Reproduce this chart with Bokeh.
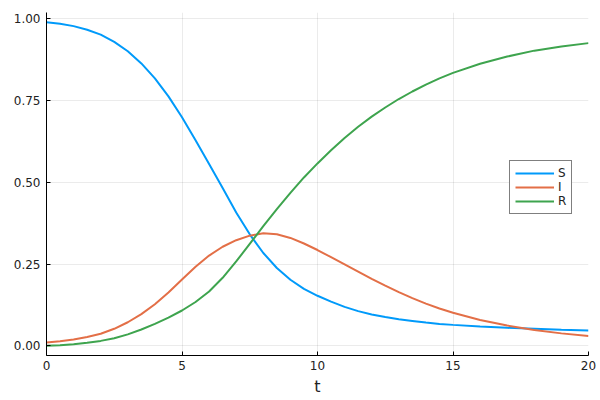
from bokeh.plotting import figure
from bokeh.models import Range1d, FixedTicker, PrintfTickFormatter, Legend, LegendItem
from bokeh.embed import file_html
from bokeh.resources import INLINE

t = [0, 0.5, 1, 1.5, 2, 2.5, 3, 3.5, 4, 4.5, 5, 5.5, 6, 6.5, 7, 7.5, 8, 8.5, 9, 9.5,
     10, 10.5, 11, 11.5, 12, 12.5, 13, 13.5, 14, 14.5, 15, 16, 17, 18, 19, 20]
S = [0.990, 0.985, 0.978, 0.967, 0.952, 0.930, 0.901, 0.864, 0.818, 0.763, 0.699, 0.629, 0.556, 0.483, 0.408, 0.341, 0.284, 0.238, 0.202, 0.174,
     0.153, 0.135, 0.119, 0.106, 0.096, 0.088, 0.081, 0.076, 0.071, 0.067, 0.064, 0.059, 0.055, 0.052, 0.049, 0.047]
I = [0.010, 0.014, 0.019, 0.027, 0.037, 0.052, 0.072, 0.097, 0.127, 0.163, 0.203, 0.242, 0.276, 0.303, 0.323, 0.337, 0.344, 0.341, 0.330, 0.313,
     0.293, 0.271, 0.249, 0.227, 0.205, 0.184, 0.164, 0.146, 0.129, 0.114, 0.101, 0.079, 0.062, 0.048, 0.038, 0.030]
R = [0.000, 0.002, 0.005, 0.009, 0.015, 0.023, 0.035, 0.050, 0.067, 0.086, 0.108, 0.134, 0.166, 0.208, 0.258, 0.312, 0.366, 0.418, 0.468, 0.515,
     0.558, 0.598, 0.636, 0.670, 0.701, 0.729, 0.755, 0.778, 0.799, 0.818, 0.835, 0.863, 0.885, 0.903, 0.916, 0.926]

names = ["S", "I", "R"]
colors = ["#009AFA", "#E36F47", "#3EA44E"]
x_ticks = [0, 5, 10, 15, 20]
y_ticks = [0, 0.25, 0.5, 0.75, 1.0]

p = figure(width=600, height=400, output_backend="svg", toolbar_location=None,
           x_range=Range1d(0, 20), y_range=Range1d(-0.0297, 1.0197),
           min_border_left=46, min_border_right=12, min_border_top=12, min_border_bottom=45)
p.outline_line_color = None
p.background_fill_color = "white"

renderers = []
for ys, c in zip([S, I, R], colors):
    renderers.append(p.line(t, ys, line_color=c, line_width=2))

for ax in (p.xaxis, p.yaxis):
    ax.axis_line_color = "black"
    ax.axis_line_width = 1
    ax.major_tick_in = 4
    ax.major_tick_out = 0
    ax.minor_tick_line_color = None
    ax.major_tick_line_color = "black"
    ax.major_label_text_font = "DejaVu Sans"
    ax.major_label_text_font_size = "12px"
    ax.major_label_text_color = "#222222"

p.xaxis.ticker = FixedTicker(ticks=x_ticks)
p.yaxis.ticker = FixedTicker(ticks=y_ticks)
p.yaxis.formatter = PrintfTickFormatter(format="%.2f")
p.xaxis.major_label_standoff = 5
p.yaxis.major_label_standoff = 6
p.xaxis.axis_label = "t"
p.xaxis.axis_label_text_font = "DejaVu Sans"
p.xaxis.axis_label_text_font_size = "16px"
p.xaxis.axis_label_text_font_style = "normal"
p.xaxis.axis_label_text_color = "#222222"
p.xaxis.axis_label_standoff = 4

p.xgrid.ticker = FixedTicker(ticks=x_ticks)
p.ygrid.ticker = FixedTicker(ticks=y_ticks)
p.grid.grid_line_color = "black"
p.grid.grid_line_alpha = 0.08
p.grid.grid_line_width = 1

legend = Legend(items=[LegendItem(label=n, renderers=[r]) for n, r in zip(names, renderers)],
                location=(463, 141))
legend.border_line_color = "black"
legend.border_line_width = 1
legend.background_fill_color = "white"
legend.background_fill_alpha = 1
legend.label_text_font = "DejaVu Sans"
legend.label_text_font_size = "12px"
legend.label_text_color = "#222222"
legend.glyph_width = 39
legend.glyph_height = 14
legend.label_height = 14
legend.label_width = 8
legend.label_standoff = 4
legend.spacing = 0
legend.padding = 5
legend.margin = 0
p.add_layout(legend, "center")

open("out.html", "w").write(file_html(p, INLINE))
